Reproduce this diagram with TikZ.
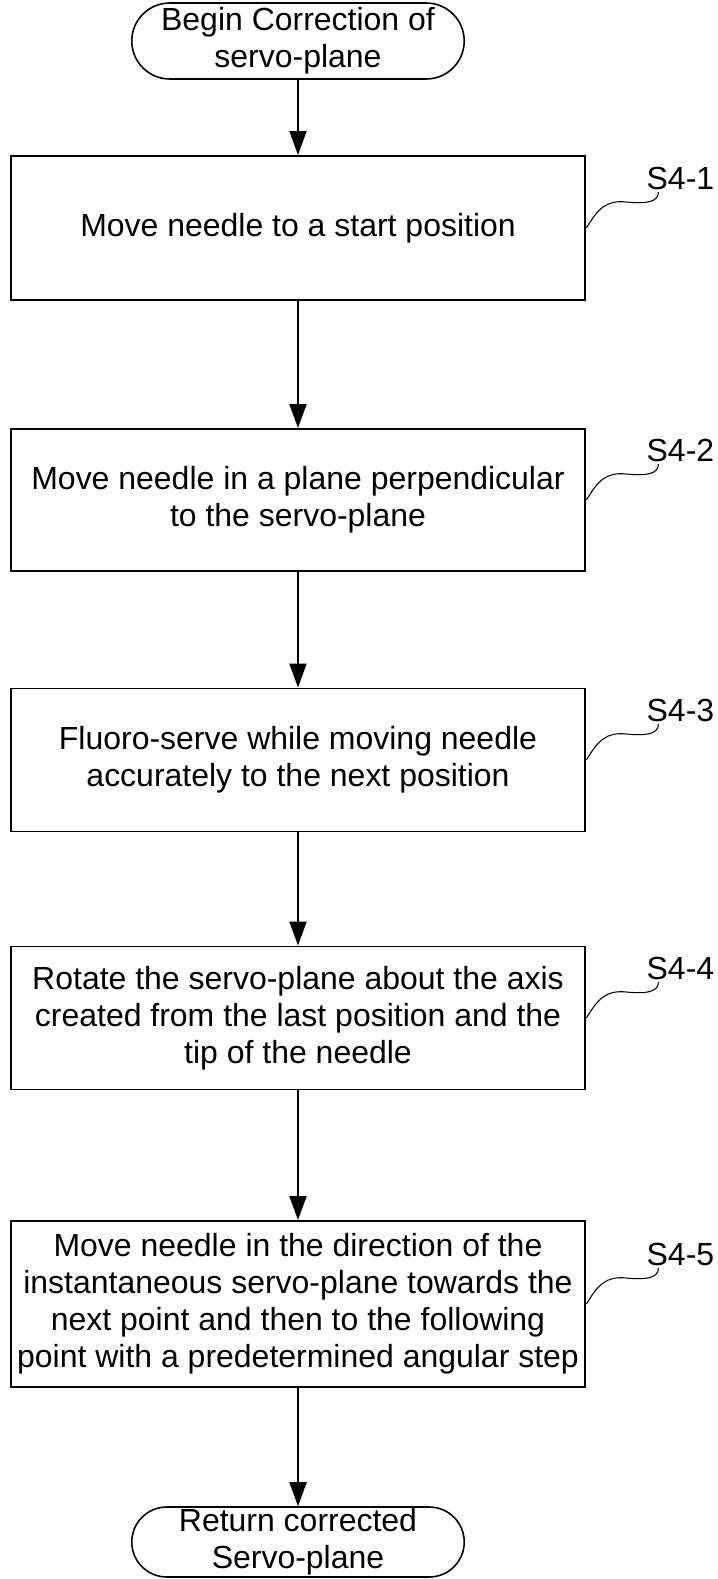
\documentclass[tikz,border=0pt]{standalone}
\usepackage{fontspec}
\setmainfont{Liberation Sans}
\usepackage{tikz}
\usetikzlibrary{arrows.meta}
\usetikzlibrary{shapes.misc}

\begin{document}
\begin{tikzpicture}[x=0.02cm,y=-0.02cm,
	every node/.style={font=\fontsize{18.2}{21.1}\selectfont,align=center,inner sep=0pt},
	stepbox/.style={draw,line width=1.1pt,minimum width=11.5cm,minimum height=#1},
	terminal/.style={draw,rounded rectangle,line width=0.9pt,minimum width=6.65cm,minimum height=#1},
	flow/.style={line width=1.1pt,-{Triangle[length=4.8mm,width=3.4mm]}},
	tag/.style={line width=0.6pt}]
	\useasboundingbox (0,0) rectangle (717,1579);
	\node [terminal=1.52cm] (begin) at (298,41) {Begin Correction of\\servo-plane};
	\node [stepbox=2.88cm] (s1) at (298,228) {Move needle to a start position};
	\node [stepbox=2.84cm] (s2) at (298,500) {Move needle in a plane perpendicular\\to the servo-plane};
	\node [stepbox=2.86cm] (s3) at (298,760) {Fluoro-serve while moving needle\\accurately to the next position};
	\node [stepbox=2.86cm] (s4) at (298,1018) {Rotate the servo-plane about the axis\\created from the last position and the\\tip of the needle};
	\node [stepbox=3.32cm] (s5) at (298,1304) {Move needle in the direction of the\\instantaneous servo-plane towards the\\next point and then to the following\\point with a predetermined angular step};
	\node [terminal=1.4cm] (end) at (298,1542) {Return corrected\\Servo-plane};
	\draw [flow] (begin)--(s1);
	\draw [flow] (s1)--(s2);
	\draw [flow] (s2)--(s3);
	\draw [flow] (s3)--(s4);
	\draw [flow] (s4)--(s5);
	\draw [flow] (s5)--(end);
	% step labels
	\foreach \n in {1,...,5}{
		\path (s\n.east) ++(94,-50) node (l\n) {S4-\n};
		\draw [tag] (s\n.east) .. controls +(12,-20) and +(-20,-2) .. ++(40,-26)
			.. controls +(20,2) and +(0,10) .. ++(32,-10);
	}
\end{tikzpicture}
\end{document}
